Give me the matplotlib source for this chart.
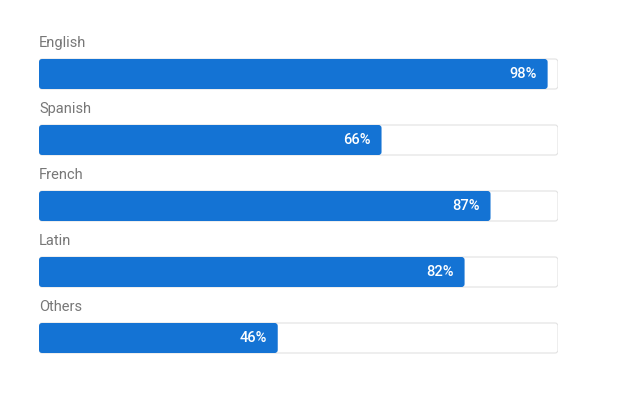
import matplotlib
matplotlib.use("Agg")
import matplotlib.pyplot as plt
from matplotlib.patches import FancyBboxPatch

languages = ["English", "Spanish", "French", "Latin", "Others"]
percent = [98, 66, 87, 82, 46]

W, H = 626, 394
fig = plt.figure(figsize=(W / 100, H / 100), dpi=100)
# x: 0..100 percent maps to px 39..558, y: row index, row pitch 66px, first center at 74px
left, right = 39, 558
ax = fig.add_axes([left / W, 0, (right - left) / W, 1])
ax.set_xlim(0, 100)
ax.set_ylim((H - 74) / 66, -74 / 66)
ax.axis("off")

px_x = 100 / (right - left)
px_y = 1 / 66
bar_h = 30 * px_y
r = 3 * px_x
asp = px_y / px_x

for i, (name, p) in enumerate(zip(languages, percent)):
    y0 = i - bar_h / 2
    track = FancyBboxPatch((0, y0), 100, bar_h,
                           boxstyle=f"round,pad=0,rounding_size={r}",
                           mutation_aspect=asp, facecolor="white",
                           edgecolor="#e2e2e2", linewidth=0.8, zorder=1)
    ax.add_patch(track)
    bar = FancyBboxPatch((0, y0), p, bar_h,
                         boxstyle=f"round,pad=0,rounding_size={r}",
                         mutation_aspect=asp, facecolor="#1473d4",
                         edgecolor="none", zorder=2)
    ax.add_patch(bar)
    ax.text(0, i - 31 * px_y, name, ha="left", va="center",
            fontsize=10.5, color="#777777", family="Roboto")
    ax.text(p - 11 * px_x, i, f"{p}%", ha="right", va="center",
            fontsize=10.5, color="white", family="Roboto", fontweight="medium")

fig.savefig("out.png", dpi=100)
